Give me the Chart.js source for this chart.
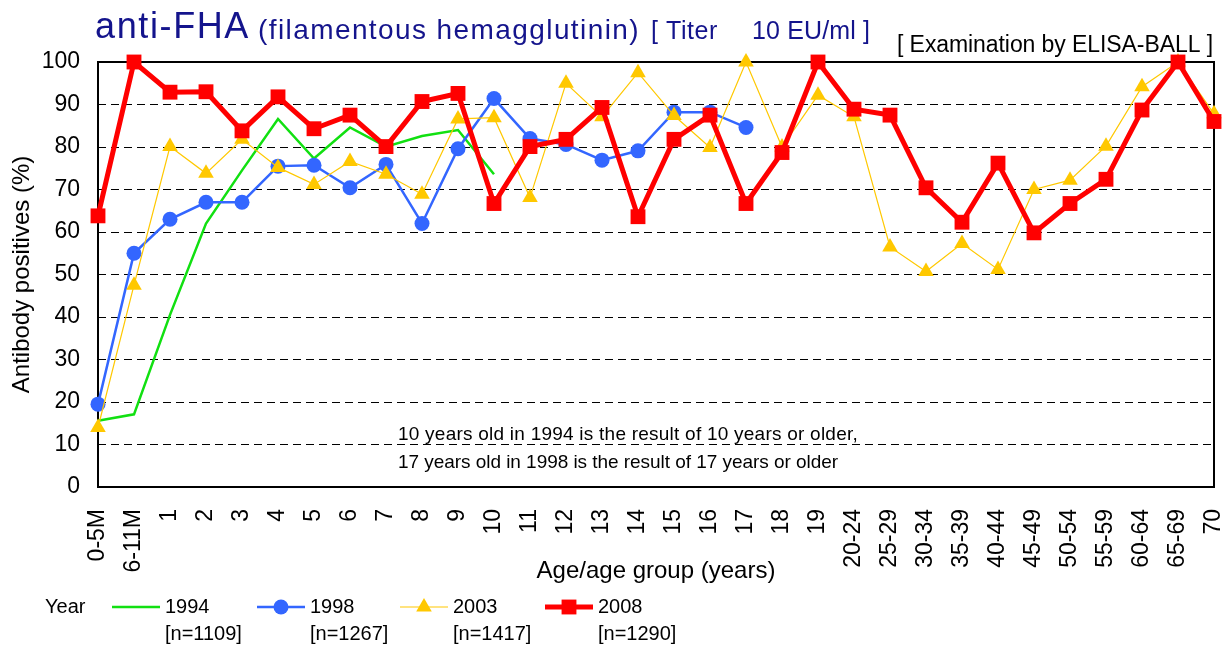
<!DOCTYPE html>
<html lang="en">
<head>
  <meta charset="UTF-8" />
  <title>anti-FHA antibody positives</title>
  <script src="https://cdn.jsdelivr.net/npm/chart.js"></script>
  <style>
    body { margin: 0; background: #fff; }
    canvas { display: block; }
  </style>
</head>
<body>
  <canvas id="fhaChart" width="1230" height="648"></canvas>

  <script>
    const ageGroups = [
      "0-5M", "6-11M", "1", "2", "3", "4", "5", "6", "7", "8", "9", "10",
      "11", "12", "13", "14", "15", "16", "17", "18", "19",
      "20-24", "25-29", "30-34", "35-39", "40-44", "45-49", "50-54",
      "55-59", "60-64", "65-69", "70"
    ];
    const surveyYears = ["1994", "1998", "2003", "2008"];
    const sampleSizes = ["[n=1109]", "[n=1267]", "[n=1417]", "[n=1290]"];

    // % positive (titer >= 10 EU/ml)
    const fha1994 = [15.6, 17.1, 40.5, 62.0, 74.5, 86.6, 77.3, 84.6, 80.1, 82.6, 84.0, 73.6,
      null, null, null, null, null, null, null, null, null, null, null, null, null, null,
      null, null, null, null, null, null];
    const fha1998 = [19.5, 55.0, 63.0, 67.0, 67.0, 75.5, 75.7, 70.4, 75.9, 62.0, 79.6, 91.4,
      82.0, 80.6, 76.9, 79.1, 88.2, 88.2, 84.6,
      null, null, null, null, null, null, null, null, null, null, null, null, null];
    const fha2003 = [14.0, 47.5, 80.1, 73.8, 81.8, 75.2, 71.2, 76.6, 73.6, 68.9, 86.6, 86.9,
      68.1, 95.0, 87.1, 97.5, 87.4, 79.9, 100, 80.0, 92.2,
      87.1, 56.5, 50.7, 57.3, 51.2, 70.0, 72.2, 80.2, 94.2, 100, 87.8];
    const fha2008 = [63.8, 100, 92.9, 93.0, 83.8, 91.8, 84.3, 87.5, 80.1, 90.7, 92.6, 66.7,
      80.1, 81.8, 89.3, 63.6, 81.8, 87.5, 66.7, 78.7, 100,
      88.9, 87.5, 70.4, 62.3, 76.2, 59.8, 66.7, 72.4, 88.7, 100, 86.0];

    const FONT = '"Liberation Sans", Arial, sans-serif';
    const NAVY = "#14148c";

    // draw text stretched to a given width with letter spacing
    function fitText(ctx, text, x, y, width, size, color) {
      ctx.save();
      ctx.font = size + "px " + FONT;
      ctx.fillStyle = color;
      ctx.textAlign = "left";
      ctx.textBaseline = "alphabetic";
      const w = ctx.measureText(text).width;
      if ("letterSpacing" in ctx) {
        ctx.letterSpacing = ((width - w) / text.length) + "px";
        ctx.fillText(text, x, y);
      } else {
        ctx.translate(x, y);
        ctx.scale(width / w, 1);
        ctx.fillText(text, 0, 0);
      }
      ctx.restore();
    }

    function marker(ctx, style, r, x, y, color) {
      ctx.fillStyle = color;
      ctx.beginPath();
      if (style === "circle") {
        ctx.arc(x, y, r, 0, Math.PI * 2);
      } else if (style === "triangle") {
        ctx.moveTo(x, y - r);
        ctx.lineTo(x + r * 0.866, y + r * 0.5);
        ctx.lineTo(x - r * 0.866, y + r * 0.5);
        ctx.closePath();
      } else if (style === "rect") {
        const s = r * Math.SQRT1_2;
        ctx.rect(x - s, y - s, 2 * s, 2 * s);
      }
      ctx.fill();
    }

    const frameAndNotes = {
      id: "frameAndNotes",
      beforeDatasetsDraw(chart) {
        const { ctx, chartArea: a } = chart;
        ctx.save();
        ctx.strokeStyle = "#000";
        ctx.lineWidth = 2;
        ctx.strokeRect(a.left, a.top, a.right - a.left, a.bottom - a.top);
        ctx.restore();
        fitText(ctx, "10 years old in 1994 is the result of 10 years or older,", 398, 440, 460, 19, "#000");
        fitText(ctx, "17 years old in 1998 is the result of 17 years or older", 398, 468, 440, 19, "#000");
      },
      afterDraw(chart) {
        const ctx = chart.ctx;
        // titles
        fitText(ctx, "anti-FHA", 95, 38, 155, 36, NAVY);
        fitText(ctx, "(filamentous hemagglutinin)", 258, 39, 382, 28, NAVY);
        fitText(ctx, "[ Titer", 651, 39, 67, 25, NAVY);
        fitText(ctx, "10 EU/ml ]", 752, 39, 118, 25, NAVY);
        fitText(ctx, "[ Examination by ELISA-BALL ]", 897, 52, 316, 23, "#000");

        // legend
        ctx.save();
        ctx.font = "20px " + FONT;
        ctx.fillStyle = "#000";
        ctx.textBaseline = "middle";
        ctx.textAlign = "left";
        ctx.fillText("Year", 45, 607);
        const starts = [112, 257, 400, 545];
        chart.data.datasets.forEach((ds, i) => {
          const x0 = starts[i];
          ctx.strokeStyle = ds.borderColor;
          ctx.lineWidth = ds.borderWidth;
          ctx.beginPath();
          ctx.moveTo(x0, 607);
          ctx.lineTo(x0 + 48, 607);
          ctx.stroke();
          if (ds.pointRadius > 0) {
            marker(ctx, ds.pointStyle, ds.pointRadius, x0 + 24, 607, ds.pointBackgroundColor);
          }
          ctx.fillStyle = "#000";
          ctx.fillText(surveyYears[i], x0 + 53, 607);
          ctx.fillText(sampleSizes[i], x0 + 53, 634);
        });
        ctx.restore();
      }
    };

    const ctx = document.getElementById("fhaChart").getContext("2d");
    new Chart(ctx, {
      type: "line",
      data: {
        labels: ageGroups,
        datasets: [
          {
            label: surveyYears[0], data: fha1994, order: 4,
            borderColor: "#11e011", borderWidth: 2.5,
            pointRadius: 0, pointStyle: "circle", pointBackgroundColor: "#11e011"
          },
          {
            label: surveyYears[1], data: fha1998, order: 3,
            borderColor: "#3366ff", borderWidth: 2.5,
            pointStyle: "circle", pointRadius: 7.5,
            pointBackgroundColor: "#3366ff", pointBorderWidth: 0
          },
          {
            label: surveyYears[2], data: fha2003, order: 2,
            borderColor: "#ffc800", borderWidth: 1.2,
            pointStyle: "triangle", pointRadius: 9,
            pointBackgroundColor: "#ffc800", pointBorderWidth: 0
          },
          {
            label: surveyYears[3], data: fha2008, order: 1,
            borderColor: "#ff0000", borderWidth: 5,
            pointStyle: "rect", pointRadius: 10.5,
            pointBackgroundColor: "#ff0000", pointBorderWidth: 0
          }
        ]
      },
      options: {
        responsive: false,
        animation: false,
        clip: false,
        layout: { padding: { top: 62, right: 16, bottom: 60, left: 0 } },
        elements: { line: { tension: 0 } },
        plugins: {
          legend: { display: false },
          tooltip: { enabled: false },
          title: { display: false }
        },
        scales: {
          x: {
            offset: false,
            grid: { display: false, drawTicks: false },
            border: { display: false },
            ticks: {
              autoSkip: false, minRotation: 90, maxRotation: 90, padding: 22,
              color: "#000", font: { family: FONT, size: 23 }
            },
            title: {
              display: true, text: "Age/age group (years)", color: "#000",
              font: { family: FONT, size: 24 }, padding: { top: 0, bottom: 2 }
            },
            afterFit(scale) {
              scale.height = 101;
              scale.paddingLeft = 0;
              scale.paddingRight = 0;
            }
          },
          y: {
            min: 0, max: 100,
            grid: { color: "#000", lineWidth: 1, drawTicks: false },
            border: { display: false, dash: [8, 5] },
            ticks: {
              stepSize: 10, padding: 18,
              color: "#000", font: { family: FONT, size: 23 }
            },
            title: {
              display: true, text: "Antibody positives (%)", color: "#000",
              font: { family: FONT, size: 24 }, padding: { top: 8, bottom: 0 }
            },
            afterFit(scale) { scale.width = 98; }
          }
        }
      },
      plugins: [frameAndNotes]
    });
  </script>
</body>
</html>
